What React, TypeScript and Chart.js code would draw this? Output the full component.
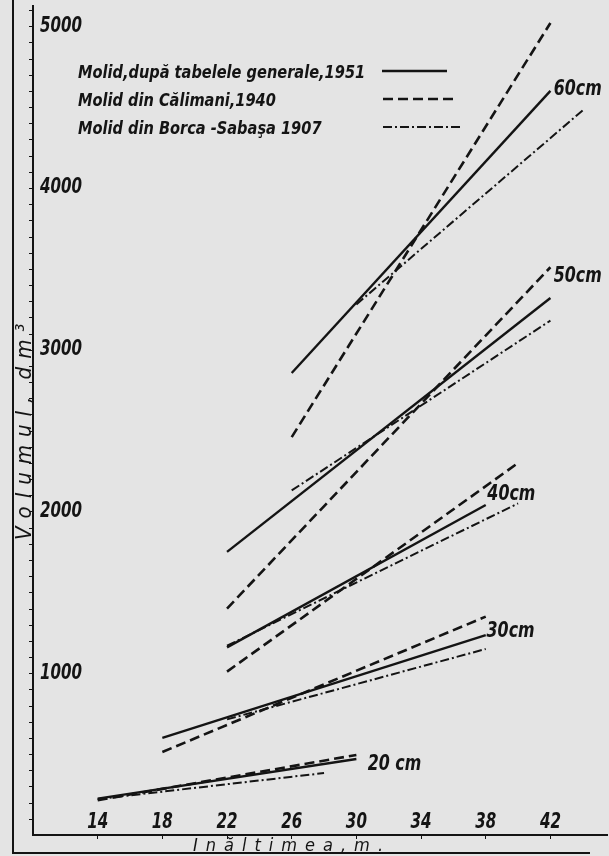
import React, { useEffect, useRef } from 'react';
import { Chart, LinearScale, registerables } from 'chart.js';

// Stem volume (dm³) against tree height (m) for Norway spruce, per breast-height diameter.
const diameterLabels = ['20 cm', '30cm', '40cm', '50cm', '60cm'];
const diameterLabelHeights = [30.7, 38.05, 38.1, 42.2, 42.2];
const diameterLabelVolumes = [433, 1255, 2102, 3450, 4606];

const seriesNames = [
  'Molid,după tabelele generale,1951',
  'Molid din Călimani,1940',
  'Molid din Borca -Sabaşa 1907',
];

// general volume tables, 1951 (solid)
const heights1951 = [[14, 30], [18, 38], [22, 38], [22, 42], [26, 42]];
const volumes1951 = [[225, 470], [600, 1236], [1160, 2040], [1750, 3320], [2856, 4600]];
// Călimani, 1940 (dashed)
const heights1940 = [[14, 30], [18, 38], [22, 40], [22, 42], [26, 42]];
const volumes1940 = [[215, 495], [513, 1350], [1010, 2300], [1400, 3510], [2460, 5020]];
// Borca - Sabaşa, 1907 (dash-dot)
const heights1907 = [[14, 28], [22, 38], [22, 40], [26, 42], [30, 44]];
const volumes1907 = [[222, 383], [715, 1150], [1170, 2050], [2130, 3180], [3280, 4480]];

const heightTicks = [14, 18, 22, 26, 30, 34, 38, 42];
const volumeTicks = [1000, 2000, 3000, 4000, 5000];

const PAPER = '#e4e4e4';
const INK = '#141414';
const NARROW = "'Liberation Sans Narrow', 'DejaVu Sans Condensed', 'Liberation Sans', sans-serif";

const lineStyles = [
  { dash: [] as number[], width: 2.4 },
  { dash: [10, 5], width: 2.6 },
  { dash: [9, 3, 2, 3], width: 2 },
];

// Linear scale whose tick labels are set in a narrower, condensed face.
class CondensedLinearScale extends LinearScale {
  static id = 'condensedLinear';
  static defaults = LinearScale.defaults;

  drawLabels(chartArea: any) {
    const self = this as any;
    if (!self.options.ticks.display) return;
    const ctx = self.ctx as CanvasRenderingContext2D;
    const squeeze = self.options.ticks.squeeze ?? 1;
    for (const item of self.getLabelItems(chartArea)) {
      const { label, font, textOffset, options } = item;
      ctx.save();
      ctx.translate(options.translation[0], options.translation[1]);
      ctx.scale(squeeze, 1);
      ctx.font = font.string;
      ctx.fillStyle = options.color;
      ctx.textAlign = options.textAlign;
      ctx.textBaseline = options.textBaseline;
      ctx.fillText(String(label), 0, textOffset);
      ctx.restore();
    }
  }
}

Chart.register(...registerables, CondensedLinearScale);

function condensedText(ctx: CanvasRenderingContext2D, text: string, x: number, y: number, squeeze: number) {
  ctx.save();
  ctx.translate(x, y);
  ctx.scale(squeeze, 1);
  ctx.fillText(text, 0, 0);
  ctx.restore();
}

const sheetPlugin = {
  id: 'sheet',
  beforeDraw(chart: Chart) {
    const { ctx, width, height } = chart;
    ctx.save();
    ctx.fillStyle = PAPER;
    ctx.fillRect(0, 0, width, height);
    ctx.restore();
  },
  afterDraw(chart: Chart) {
    const { ctx } = chart;
    const xs = chart.scales.x;
    const ys = chart.scales.y;
    ctx.save();
    ctx.strokeStyle = INK;
    ctx.fillStyle = INK;

    // outer frame of the sheet
    ctx.lineWidth = 2;
    ctx.beginPath();
    ctx.moveTo(13, 0);
    ctx.lineTo(13, 853);
    ctx.lineTo(590, 853);
    ctx.stroke();

    // minor marks on the volume axis
    ctx.lineWidth = 1;
    for (let v = 100; v <= 5100; v += 100) {
      const py = Math.round(ys.getPixelForValue(v)) + 0.5;
      ctx.beginPath();
      ctx.moveTo(xs.left - 4, py);
      ctx.lineTo(xs.left, py);
      ctx.stroke();
    }

    // axis titles
    ctx.font = `italic 18px ${NARROW}`;
    ctx.textBaseline = 'alphabetic';
    ctx.textAlign = 'left';
    let tx = 193;
    for (const ch of 'Inăltimea,m.') {
      ctx.fillText(ch, tx, 851);
      tx += ctx.measureText(ch).width + 8;
    }

    ctx.save();
    ctx.translate(31, 540);
    ctx.rotate(-Math.PI / 2);
    ctx.font = `italic 22px ${NARROW}`;
    let ty = 0;
    for (const ch of 'Volumul, dm³') {
      ctx.fillText(ch, ty, 0);
      ty += ctx.measureText(ch).width + (ch === ' ' ? 3 : 8);
    }
    ctx.restore();

    // legend: name, then a sample of the line style
    const legendY = [73, 101, 129];
    const sampleStart = [382, 383, 383];
    const sampleEnd = [447, 458, 463];
    ctx.font = `italic bold 18px ${NARROW}`;
    ctx.textBaseline = 'middle';
    seriesNames.forEach((name, i) => {
      condensedText(ctx, name, 78, legendY[i], 0.9);
      ctx.beginPath();
      ctx.setLineDash(lineStyles[i].dash);
      ctx.lineWidth = lineStyles[i].width;
      ctx.moveTo(sampleStart[i], legendY[i] - 2);
      ctx.lineTo(sampleEnd[i], legendY[i] - 2);
      ctx.stroke();
    });
    ctx.setLineDash([]);

    // diameter labels at the ends of the curves
    ctx.font = `italic bold 21px ${NARROW}`;
    diameterLabels.forEach((lab, i) => {
      condensedText(ctx, lab, xs.getPixelForValue(diameterLabelHeights[i]), ys.getPixelForValue(diameterLabelVolumes[i]), 0.84);
    });
    ctx.restore();
  },
};

export default function App() {
  const ref = useRef<HTMLCanvasElement>(null);

  useEffect(() => {
    document.body.style.margin = '0';
    document.body.style.background = PAPER;
    const canvas = ref.current;
    if (!canvas) return;

    const groups = [
      { h: heights1951, v: volumes1951 },
      { h: heights1940, v: volumes1940 },
      { h: heights1907, v: volumes1907 },
    ];
    const datasets: any[] = [];
    groups.forEach((g, s) => {
      g.h.forEach((hs, d) => {
        datasets.push({
          label: `${seriesNames[s]} – ${diameterLabels[d]}`,
          data: hs.map((h, k) => ({ x: h, y: g.v[d][k] })),
          borderColor: INK,
          borderWidth: lineStyles[s].width,
          borderDash: lineStyles[s].dash,
          borderCapStyle: 'butt',
          pointRadius: 0,
          fill: false,
          tension: 0,
        });
      });
    });

    const tickFont = { family: NARROW, size: 21, style: 'italic' as const, weight: 'bold' as const };
    const noPadding = (s: any) => {
      s.paddingTop = 0;
      s.paddingBottom = 0;
      s.paddingLeft = 0;
      s.paddingRight = 0;
    };

    const chart = new Chart(canvas, {
      type: 'line',
      data: { datasets },
      options: {
        responsive: false,
        animation: false,
        events: [],
        layout: { padding: { left: 33, right: 2, top: 6, bottom: 0 } },
        plugins: { legend: { display: false }, tooltip: { enabled: false }, title: { display: false } },
        scales: {
          x: {
            type: 'condensedLinear' as any,
            min: 10,
            max: 45.5,
            afterBuildTicks: (s: any) => { s.ticks = heightTicks.map((v) => ({ value: v })); },
            afterFit: (s: any) => { s.height = 21; noPadding(s); },
            grid: { display: true, drawOnChartArea: false, drawTicks: true, tickLength: 4, color: INK, lineWidth: 1 },
            border: { display: true, color: INK, width: 2 },
            ticks: {
              padding: -29,
              color: INK,
              font: tickFont,
              maxRotation: 0,
              autoSkip: false,
              squeeze: 0.8,
              callback: (v: any) => String(v),
            } as any,
          },
          y: {
            type: 'condensedLinear' as any,
            min: 0,
            max: 5125,
            afterBuildTicks: (s: any) => { s.ticks = volumeTicks.map((v) => ({ value: v })); },
            afterFit: (s: any) => { s.width = 0; noPadding(s); },
            grid: { display: false, drawTicks: false },
            border: { display: true, color: INK, width: 2 },
            ticks: {
              mirror: true,
              padding: 7,
              color: INK,
              font: tickFont,
              squeeze: 0.8,
              callback: (v: any) => String(v),
            } as any,
          },
        },
      },
      plugins: [sheetPlugin],
    });

    return () => chart.destroy();
  }, []);

  return <canvas ref={ref} width={609} height={856} style={{ display: 'block' }} />;
}
